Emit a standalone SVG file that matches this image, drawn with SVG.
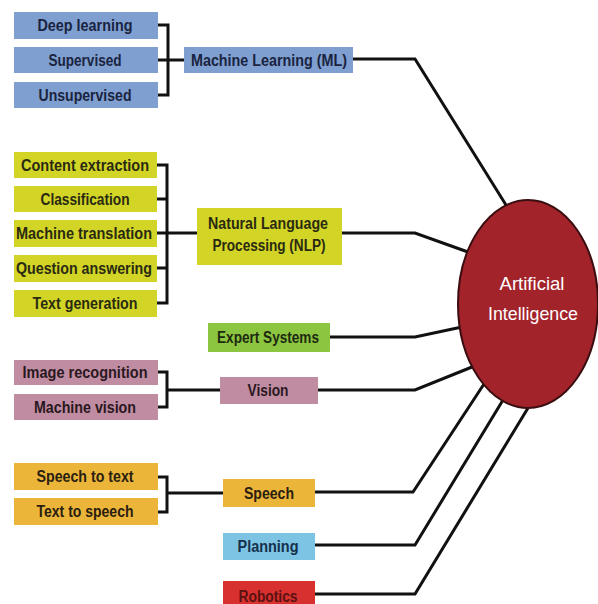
<svg xmlns="http://www.w3.org/2000/svg" width="598" height="604" viewBox="0 0 598 604">
<style>
text{font-family:"Liberation Sans",Arial,sans-serif;font-weight:bold;font-size:16px;text-anchor:middle;dominant-baseline:central;fill:#222}
.ml rect{fill:#7f9fd0}.ml text{fill:#1a2440}
.nlp rect{fill:#d2d526}.nlp text{fill:#2a2a12}
.es rect{fill:#8cc540}.es text{fill:#1e2a10}
.vi rect{fill:#c08ca2}.vi text{fill:#2a1820}
.sp rect{fill:#ebb53a}.sp text{fill:#2a2010}
.pl rect{fill:#7cc3e4}.pl text{fill:#15304a}
.ro rect{fill:#d8302e}.ro text{fill:#5a1212}
.ai text{fill:#fff;font-size:19px;font-weight:normal}
.conn path{fill:none;stroke:#111;stroke-width:3;stroke-linejoin:miter}
</style>
<rect width="598" height="604" fill="#fff"/>
<g class="conn">
<path d="M158 25H168V95H158M158 60H184"/>
<path d="M353 59H415L506 205"/>
<path d="M157 165H167V303H157M157 199H167M157 233H197M157 268H167"/>
<path d="M342 233H415L468 252"/>
<path d="M330 337H415L462 327"/>
<path d="M158 372H167V407H158M167 390H220"/>
<path d="M318 390H415L472 367"/>
<path d="M158 477H167V512H158M167 493H223"/>
<path d="M315 492H413L484 384"/>
<path d="M315 545H415L503 400"/>
<path d="M315 594H415L528 408"/>
</g>
<g id="ai" class="ai"><ellipse cx="528" cy="304" rx="70" ry="104" fill="#a3232b" stroke="#3a0d10" stroke-width="2"/>
<text x="532" y="283" textLength="65" lengthAdjust="spacingAndGlyphs">Artificial</text>
<text x="533" y="313" textLength="90" lengthAdjust="spacingAndGlyphs">Intelligence</text></g>
<g id="ml" class="ml"><rect x="184" y="47" width="169" height="26"/><text x="269" y="60" textLength="156" lengthAdjust="spacingAndGlyphs">Machine Learning (ML)</text></g>
<g id="deep" class="ml"><rect x="14" y="12" width="144" height="27"/><text x="85" y="25" textLength="95" lengthAdjust="spacingAndGlyphs">Deep learning</text></g>
<g id="sup" class="ml"><rect x="14" y="47" width="144" height="26"/><text x="85" y="60" textLength="73" lengthAdjust="spacingAndGlyphs">Supervised</text></g>
<g id="unsup" class="ml"><rect x="14" y="82" width="144" height="26"/><text x="85" y="95" textLength="93" lengthAdjust="spacingAndGlyphs">Unsupervised</text></g>
<g id="nlp" class="nlp"><rect x="197" y="208" width="145" height="57"/><text x="268" y="223" textLength="120" lengthAdjust="spacingAndGlyphs">Natural Language</text><text x="269" y="245" textLength="113" lengthAdjust="spacingAndGlyphs">Processing (NLP)</text></g>
<g id="ce" class="nlp"><rect x="14" y="152" width="143" height="26"/><text x="85" y="165" textLength="128" lengthAdjust="spacingAndGlyphs">Content extraction</text></g>
<g id="cl" class="nlp"><rect x="14" y="186" width="143" height="26"/><text x="85" y="199" textLength="89" lengthAdjust="spacingAndGlyphs">Classification</text></g>
<g id="mt" class="nlp"><rect x="14" y="220" width="143" height="27"/><text x="84" y="233" textLength="136" lengthAdjust="spacingAndGlyphs">Machine translation</text></g>
<g id="qa" class="nlp"><rect x="14" y="255" width="143" height="27"/><text x="84" y="268" textLength="136" lengthAdjust="spacingAndGlyphs">Question answering</text></g>
<g id="tg" class="nlp"><rect x="14" y="290" width="143" height="27"/><text x="85" y="303" textLength="105" lengthAdjust="spacingAndGlyphs">Text generation</text></g>
<g id="es" class="es"><rect x="208" y="323" width="122" height="29"/><text x="268" y="337" textLength="102" lengthAdjust="spacingAndGlyphs">Expert Systems</text></g>
<g id="ir" class="vi"><rect x="14" y="360" width="144" height="25"/><text x="85" y="372" textLength="125" lengthAdjust="spacingAndGlyphs">Image recognition</text></g>
<g id="mv" class="vi"><rect x="14" y="394" width="144" height="26"/><text x="85" y="407" textLength="102" lengthAdjust="spacingAndGlyphs">Machine vision</text></g>
<g id="vision" class="vi"><rect x="220" y="377" width="98" height="27"/><text x="268" y="390" textLength="41" lengthAdjust="spacingAndGlyphs">Vision</text></g>
<g id="stt" class="sp"><rect x="14" y="463" width="144" height="27"/><text x="85" y="476" textLength="97" lengthAdjust="spacingAndGlyphs">Speech to text</text></g>
<g id="tts" class="sp"><rect x="14" y="498" width="144" height="27"/><text x="85" y="511" textLength="97" lengthAdjust="spacingAndGlyphs">Text to speech</text></g>
<g id="speech" class="sp"><rect x="223" y="479" width="92" height="28"/><text x="269" y="493" textLength="50" lengthAdjust="spacingAndGlyphs">Speech</text></g>
<g id="planning" class="pl"><rect x="223" y="533" width="92" height="27"/><text x="268" y="546" textLength="61" lengthAdjust="spacingAndGlyphs">Planning</text></g>
<g id="robotics" class="ro"><rect x="223" y="581" width="92" height="30"/><text x="268" y="596" textLength="59" lengthAdjust="spacingAndGlyphs">Robotics</text></g>
</svg>
